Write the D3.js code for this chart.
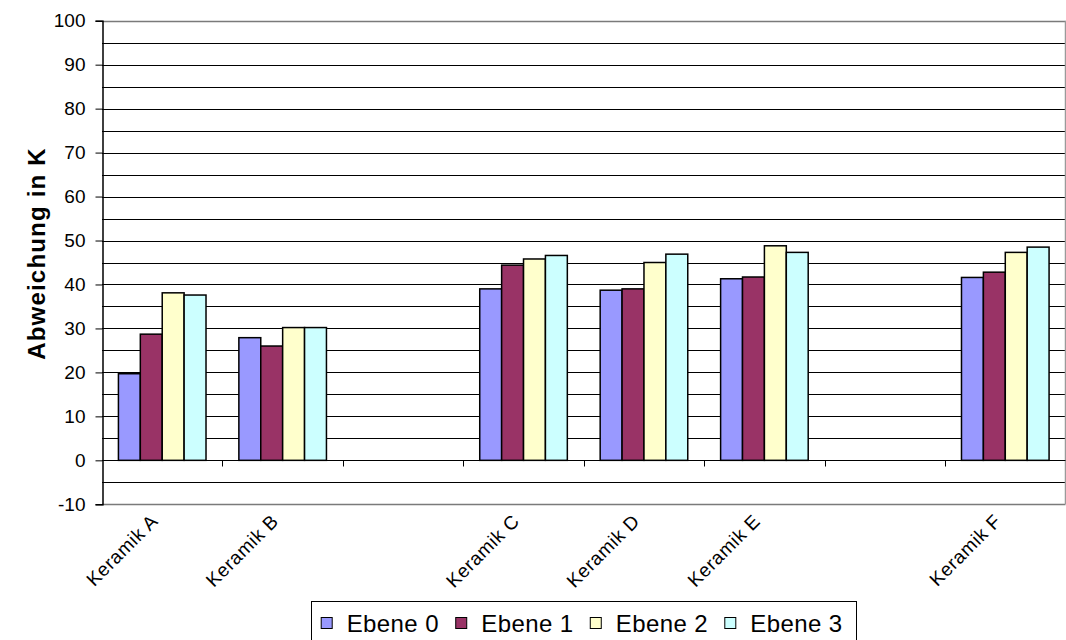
<!DOCTYPE html>
<html>
<head>
<meta charset="utf-8">
<script src="https://cdn.jsdelivr.net/npm/d3@7"></script>
<style>
  html, body { margin: 0; padding: 0; background: #fff; }
  svg { display: block; font-family: "Liberation Sans", Arial, sans-serif; }
</style>
</head>
<body>
<svg id="chart" width="1066" height="640"></svg>
<script>
// Category slots (blank entries are empty gaps on the axis)
const categories = ["Keramik A", "Keramik B", "", "Keramik C", "Keramik D", "Keramik E", "", "Keramik F"];
const seriesNames = ["Ebene 0", "Ebene 1", "Ebene 2", "Ebene 3"];
const seriesColors = ["#9999FF", "#993366", "#FFFFCC", "#CCFFFF"];
const ebene0 = [19.7, 27.9, null, 39.0, 38.7, 41.3, null, 41.6];
const ebene1 = [28.7, 26.0, null, 44.4, 39.0, 41.7, null, 42.8];
const ebene2 = [38.1, 30.2, null, 45.8, 45.0, 48.8, null, 47.3];
const ebene3 = [37.6, 30.2, null, 46.6, 46.9, 47.3, null, 48.5];
const yTicks = [-10, 0, 10, 20, 30, 40, 50, 60, 70, 80, 90, 100];
const yGrid = d3.range(-10, 101, 5);

const seriesValues = [ebene0, ebene1, ebene2, ebene3];

const svg = d3.select("#chart");
const plot = { left: 102, right: 1065.5, top: 20.7, bottom: 504.3 };

const x = d3.scaleBand()
  .domain(d3.range(categories.length))
  .range([plot.left, plot.right])
  .padding(0);

const xs = d3.scaleBand()
  .domain(d3.range(seriesNames.length))
  .range([0, x.bandwidth()])
  .paddingInner(0)
  .paddingOuter(0.75);

const y = d3.scaleLinear().domain([-10, 100]).range([plot.bottom, plot.top]);

// Horizontal gridlines every 5 units
svg.append("g")
  .selectAll("line")
  .data(yGrid)
  .join("line")
  .attr("x1", plot.left)
  .attr("x2", plot.right)
  .attr("y1", d => Math.round(y(d)) + 0.5)
  .attr("y2", d => Math.round(y(d)) + 0.5)
  .attr("stroke", d => (d === 100 || d === -10) ? "#7a7a7a" : "#000")
  .attr("stroke-width", d => (d === 100 || d === -10) ? 1.5 : 1);

// Right border of the plot area
svg.append("line")
  .attr("x1", plot.right).attr("x2", plot.right)
  .attr("y1", y(100)).attr("y2", y(-10))
  .attr("stroke", "#9a9a9a").attr("stroke-width", 1.5);

// Bars
const groups = svg.append("g")
  .selectAll("g")
  .data(categories.map((c, i) => i))
  .join("g")
  .attr("transform", i => `translate(${x(i)},0)`);

groups.selectAll("rect")
  .data(i => seriesValues.map((vals, s) => ({ s, v: vals[i] })).filter(d => d.v != null))
  .join("rect")
  .attr("x", d => xs(d.s))
  .attr("width", xs.bandwidth())
  .attr("y", d => y(Math.max(0, d.v)))
  .attr("height", d => Math.abs(y(d.v) - y(0)))
  .attr("fill", d => seriesColors[d.s])
  .attr("stroke", "#000")
  .attr("stroke-width", 1.5);

// Category axis along zero line
const zeroY = Math.round(y(0)) + 0.5;
svg.append("line")
  .attr("x1", plot.left).attr("x2", plot.right)
  .attr("y1", zeroY).attr("y2", zeroY)
  .attr("stroke", "#000").attr("stroke-width", 1);

svg.append("g")
  .selectAll("line")
  .data(d3.range(1, categories.length))
  .join("line")
  .attr("x1", i => Math.round(x(i)) + 0.5)
  .attr("x2", i => Math.round(x(i)) + 0.5)
  .attr("y1", zeroY)
  .attr("y2", zeroY + 6)
  .attr("stroke", "#000");

// Rotated category labels
svg.append("g")
  .selectAll("text")
  .data(categories.map((c, i) => ({ c, i })).filter(d => d.c))
  .join("text")
  .attr("transform", d => `translate(${x(d.i) + x.bandwidth() / 2 - 3},${y(-10) + 18}) rotate(-45)`)
  .attr("text-anchor", "end")
  .attr("font-size", 19)
  .attr("letter-spacing", 0.6)
  .attr("fill", "#000")
  .text(d => d.c);

// Value axis
const yAxis = d3.axisLeft(y).tickValues(yTicks).tickSize(7).tickPadding(10).tickFormat(d => String(d));
const gy = svg.append("g")
  .attr("transform", `translate(${plot.left + 0.5},0)`)
  .call(yAxis);
gy.select(".domain").attr("stroke", "#000").attr("stroke-width", 1.5);
gy.selectAll(".tick line").attr("stroke", "#000");
gy.selectAll(".tick text")
  .attr("font-size", 19)
  .attr("font-family", "'Liberation Sans', Arial, sans-serif")
  .attr("fill", "#000");

// Axis title
svg.append("text")
  .attr("transform", `translate(45,${(plot.top + plot.bottom) / 2 - 9}) rotate(-90)`)
  .attr("text-anchor", "middle")
  .attr("font-size", 24)
  .attr("font-weight", "bold")
  .attr("letter-spacing", 1.2)
  .attr("fill", "#000")
  .text("Abweichung in K");

// Legend
const legend = svg.append("g");
legend.append("rect")
  .attr("x", 311.5).attr("y", 601.5)
  .attr("width", 545).attr("height", 60)
  .attr("fill", "#fff").attr("stroke", "#000").attr("stroke-width", 1);

const itemX = d3.scaleLinear().domain([0, 3]).range([320.7, 724.3]);
const items = legend.selectAll("g.item")
  .data(seriesNames)
  .join("g")
  .attr("class", "item")
  .attr("transform", (d, i) => `translate(${itemX(i)},0)`);
items.append("rect")
  .attr("x", 0.5).attr("y", 617.5)
  .attr("width", 11).attr("height", 11)
  .attr("fill", (d, i) => seriesColors[i])
  .attr("stroke", "#000").attr("stroke-width", 1);
items.append("text")
  .attr("x", 26).attr("y", 631.5)
  .attr("font-size", 24)
  .attr("letter-spacing", 0.4)
  .attr("fill", "#000")
  .text(d => d);
</script>
</body>
</html>
